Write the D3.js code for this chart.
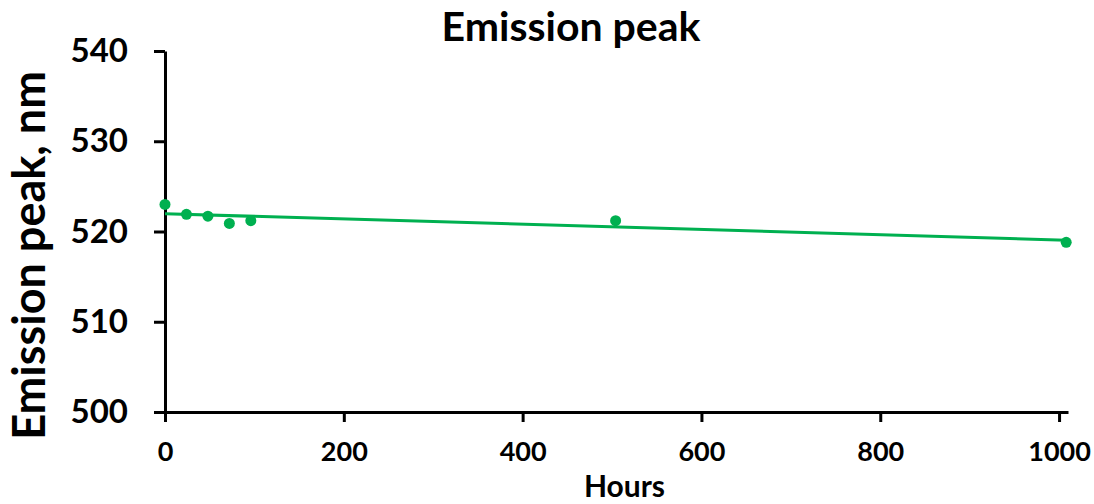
<!DOCTYPE html>
<html>
<head>
<meta charset="utf-8">
<script src="https://cdn.jsdelivr.net/npm/d3@7"></script>
<style>
  body { margin: 0; background: #fff; }
  svg { display: block; font-family: Lato, "Open Sans", sans-serif; font-weight: bold; }
</style>
</head>
<body>
<svg id="chart"></svg>
<script>
// data
const hours = [0, 24, 48, 72, 96, 504, 1008];
const peak = [523.0, 521.9, 521.7, 520.9, 521.2, 521.2, 518.8];
const xTicks = [0, 200, 400, 600, 800, 1000];
const yTicks = [500, 510, 520, 530, 540];
const xMax = 1010;

const W = 1094, H = 504;
const margin = {top: 51, right: 26, bottom: 92, left: 165};
const width = W - margin.left - margin.right;
const height = H - margin.top - margin.bottom;
const green = "#00b050";

const svg = d3.select("#chart").attr("width", W).attr("height", H);
const g = svg.append("g").attr("transform", `translate(${margin.left},${margin.top})`);

const x = d3.scaleLinear().domain([0, xMax]).range([0, width]);
const y = d3.scaleLinear().domain([500, 540]).range([height, 0]);

// linear trendline (least squares) like the excel one
const mx = d3.mean(hours), my = d3.mean(peak);
let sxy = 0, sxx = 0;
hours.forEach((h, i) => { sxy += (h - mx) * (peak[i] - my); sxx += (h - mx) * (h - mx); });
const slope = sxy / sxx, icept = my - slope * mx;
const trend = [0, d3.max(hours)].map(h => [h, icept + slope * h]);

// axes
const xAxis = g.append("g")
  .attr("transform", `translate(0,${height})`)
  .call(d3.axisBottom(x).tickValues(xTicks).tickFormat(d3.format("d"))
    .tickSize(10).tickPadding(20).tickSizeOuter(0));
const yAxis = g.append("g")
  .call(d3.axisLeft(y).tickValues(yTicks).tickSize(11).tickPadding(26).tickSizeOuter(0));

[xAxis, yAxis].forEach(a => {
  a.select(".domain").attr("stroke", "#000").attr("stroke-width", 3);
  a.selectAll(".tick line").attr("stroke", "#000").attr("stroke-width", 3);
  a.selectAll("text").attr("fill", "#000").style("font-family", "Lato, sans-serif").style("font-weight", "bold");
});
xAxis.selectAll("text").style("font-size", "27px");
yAxis.selectAll("text").style("font-size", "33px");

// trendline
g.append("path")
  .datum(trend)
  .attr("fill", "none")
  .attr("stroke", green)
  .attr("stroke-width", 3)
  .attr("d", d3.line().x(d => x(d[0])).y(d => y(d[1])));

// points
g.selectAll("circle")
  .data(hours.map((h, i) => [h, peak[i]]))
  .enter().append("circle")
  .attr("cx", d => x(d[0]))
  .attr("cy", d => y(d[1]))
  .attr("r", 5.5)
  .attr("fill", green);

// titles
svg.append("text")
  .attr("x", 571).attr("y", 41)
  .attr("text-anchor", "middle")
  .style("font-size", "41px")
  .text("Emission peak");

svg.append("text")
  .attr("x", margin.left + width / 2 + 8).attr("y", 497)
  .attr("text-anchor", "middle")
  .style("font-size", "30px")
  .text("Hours");

svg.append("text")
  .attr("transform", `translate(45,${margin.top + height / 2 + 24}) rotate(-90)`)
  .attr("text-anchor", "middle")
  .style("font-size", "45px")
  .text("Emission peak, nm");
</script>
</body>
</html>
